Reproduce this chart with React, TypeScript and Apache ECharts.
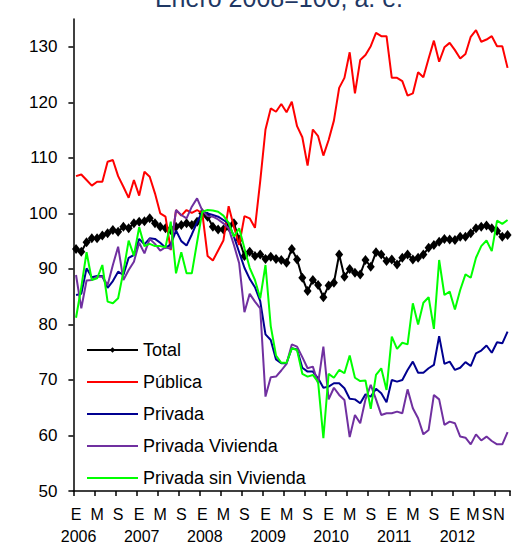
import { useEffect, useRef } from 'react';
import * as echarts from 'echarts';

const years = [2006, 2007, 2008, 2009, 2010, 2011, 2012];
const monthLetters = ['E', 'F', 'M', 'A', 'M', 'J', 'J', 'A', 'S', 'O', 'N', 'D'];
const monthCount = 83; // Enero 2006 .. Noviembre 2012
const categories: string[] = [];
for (let i = 0; i < monthCount; i++) {
  categories.push(`${monthLetters[i % 12]} ${years[Math.floor(i / 12)]}`);
}

const yTicks = [50, 60, 70, 80, 90, 100, 110, 120, 130];

const seriesNames = ['Total', 'Pública', 'Privada', 'Privada Vivienda', 'Privada sin Vivienda'];
const seriesColors = ['#000000', '#FF0000', '#000090', '#7030A0', '#00FF00'];

const total = [
  93.6, 93.1, 94.8, 95.5, 95.5, 96.0, 96.4, 97.0, 96.7, 97.6, 97.3, 98.2,
  98.5, 98.6, 99.1, 98.2, 97.6, 97.3, 97.0, 97.6, 97.9, 98.2, 97.9, 98.5,
  100.0, 99.4, 97.6, 97.1, 97.1, 97.6, 98.2, 95.3, 92.3, 93.1, 92.3, 92.6,
  91.8, 92.2, 91.8, 91.6, 91.1, 93.6, 91.7, 88.4, 86.0, 88.0, 87.1, 84.9,
  87.0, 87.5, 92.6, 88.6, 90.0, 89.3, 89.0, 91.6, 90.4, 93.0, 92.6, 91.4,
  91.7, 90.8, 92.0, 92.6, 91.7, 92.0, 92.6, 93.8, 94.3, 94.9, 95.4, 95.3,
  95.2, 95.8, 95.8, 96.4, 97.3, 97.6, 97.8, 97.3, 96.8, 95.8, 96.1,
];

const publica = [
  106.7, 107.0, 106.0, 105.0, 105.7, 105.7, 109.3, 109.6, 106.7, 104.8, 102.8, 106.0,
  103.2, 107.5, 106.6, 103.6, 100.0, 99.4, 93.4, 100.6, 99.6, 100.6, 100.1, 100.6,
  100.0, 92.3, 91.5, 93.3, 95.1, 101.3, 97.6, 94.3, 99.5, 99.1, 97.4, 105.8,
  115.1, 118.9, 118.3, 119.7, 118.2, 120.1, 115.7, 113.7, 108.6, 115.1, 113.9, 110.4,
  113.2, 116.7, 122.6, 124.4, 129.0, 121.6, 127.6, 128.5, 130.1, 132.5, 131.9, 131.9,
  124.4, 124.4, 123.8, 121.2, 121.6, 125.4, 124.5, 127.9, 131.1, 127.3, 129.9, 130.7,
  129.4, 127.9, 128.7, 131.8, 133.0, 130.9, 131.3, 131.9, 130.1, 130.1, 126.2,
];

const privada = [
  85.3, 85.5, 90.1, 88.5, 88.7, 88.7, 86.6, 87.8, 89.5, 88.9, 92.0, 92.5,
  95.4, 94.4, 95.5, 95.4, 94.7, 93.8, 94.4, 96.9, 95.0, 94.2, 96.2, 98.4,
  100.3, 100.0, 99.7, 99.4, 98.8, 98.2, 95.8, 93.0, 90.2, 88.2, 86.7, 84.2,
  78.2, 77.2, 73.7, 73.0, 73.0, 75.7, 75.5, 72.2, 71.5, 71.5, 70.3, 68.6,
  68.8, 69.4, 69.4, 68.5, 66.6, 66.5, 65.8, 67.4, 67.0, 68.4, 67.6, 66.0,
  70.0, 69.7, 70.0, 71.8, 73.3, 71.3, 71.3, 72.1, 72.7, 77.9, 72.9, 73.3,
  71.8, 72.2, 73.2, 72.5, 74.8, 75.3, 76.2, 74.9, 76.8, 76.6, 78.7,
];

const privadaVivienda = [
  88.9, 82.9, 87.9, 88.0, 88.6, 88.6, 87.1, 90.7, 94.0, 88.0, 89.8, 91.3,
  94.7, 92.8, 95.4, 94.5, 93.3, 93.9, 93.6, 100.6, 99.7, 99.1, 101.2, 102.7,
  100.5, 99.5, 99.4, 98.9, 98.2, 97.3, 94.3, 91.0, 82.2, 85.5, 84.1, 82.9,
  67.0, 70.5, 70.6, 71.7, 72.9, 76.4, 76.0, 74.1, 72.1, 72.4, 69.4, 76.0,
  66.5, 68.6, 67.3, 66.4, 59.7, 63.7, 62.2, 66.5, 69.1, 66.5, 63.7, 64.0,
  64.0, 64.3, 64.0, 68.3, 64.9, 63.1, 60.2, 61.0, 67.3, 66.5, 61.9, 62.5,
  62.2, 59.8, 59.6, 58.4, 60.2, 59.1, 59.8, 59.0, 58.4, 58.4, 60.6,
];

const privadaSinVivienda = [
  81.2, 86.7, 93.0, 88.0, 88.3, 90.7, 84.1, 83.8, 84.7, 89.5, 95.1, 92.4,
  97.5, 94.1, 94.5, 94.1, 94.1, 93.9, 98.5, 89.2, 93.0, 89.2, 89.2, 94.8,
  100.3, 100.6, 100.5, 100.3, 99.6, 98.3, 95.8, 97.3, 93.7, 90.2, 88.0, 84.7,
  90.7, 79.7, 74.4, 73.1, 73.1, 75.7, 75.4, 71.1, 70.6, 70.9, 69.6, 59.5,
  71.1, 70.4, 71.8, 71.2, 74.4, 70.4, 69.8, 69.9, 64.8, 70.9, 72.1, 68.2,
  77.8, 75.6, 76.7, 76.4, 83.8, 80.0, 83.9, 84.9, 79.2, 91.6, 85.3, 85.9,
  82.7, 86.2, 89.0, 88.4, 92.0, 94.1, 95.1, 93.2, 98.7, 98.1, 98.8,
];

const seriesData = [total, publica, privada, privadaVivienda, privadaSinVivienda];

const titleText = 'Enero 2008=100, a. e.';
const FONT = '"Liberation Sans", Arial, sans-serif';

export default function App() {
  const ref = useRef<HTMLDivElement>(null);

  useEffect(() => {
    if (!ref.current) return;
    const chart = echarts.init(ref.current, undefined, { renderer: 'svg' });

    const labelBase = { fontSize: 16, lineHeight: 22, color: '#000', fontFamily: FONT };
    const lastIdx = monthCount - 1;

    // Extra label-only axes sharing the grid (no line, no ticks)
    const labelAxis = (
      show: (i: number) => boolean,
      margin: number,
      formatter: (v: string, i: number) => string,
      rich: any
    ) => ({
      type: 'category',
      data: categories,
      gridIndex: 0,
      position: 'bottom',
      boundaryGap: true,
      axisLine: { show: false, onZero: false },
      axisTick: { show: false },
      splitLine: { show: false },
      axisPointer: { show: false },
      axisLabel: {
        show: true,
        margin,
        showMinLabel: true,
        showMaxLabel: true,
        interval: (i: number) => show(i),
        ...labelBase,
        formatter,
        rich,
      },
    });

    const option: any = {
      animation: false,
      backgroundColor: '#ffffff',
      textStyle: { fontFamily: FONT },
      graphic: [
        {
          type: 'text',
          x: 279,
          y: -2,
          style: {
            text: titleText,
            fontSize: 25,
            fontFamily: FONT,
            fill: '#1F3864',
            align: 'center',
            verticalAlign: 'middle',
            textAlign: 'center',
            textVerticalAlign: 'middle',
          },
        },
      ],
      grid: {
        left: 73.4,
        right: 2.8,
        top: 19,
        bottom: 53,
        containLabel: false,
        outerBoundsMode: 'none',
      },
      legend: {
        orient: 'vertical',
        left: 86,
        top: 341,
        padding: 0,
        itemWidth: 51,
        itemHeight: 7,
        itemGap: 14,
        textStyle: { fontSize: 18, lineHeight: 18, color: '#000', fontFamily: FONT },
        data: seriesNames.map((n, i) =>
          i === 0
            ? { name: n }
            : { name: n, itemStyle: { opacity: 0, color: 'transparent', borderWidth: 0 } }
        ),
      },
      xAxis: [
        {
          type: 'category',
          data: categories,
          gridIndex: 0,
          position: 'bottom',
          boundaryGap: true,
          axisLine: { show: true, onZero: false, lineStyle: { color: '#000', width: 1.5 } },
          axisTick: {
            show: true,
            length: 5,
            alignWithLabel: false,
            interval: (i: number) => i % 4 === 0,
            lineStyle: { color: '#000', width: 1.5 },
          },
          axisLabel: {
            show: true,
            margin: 12,
            showMinLabel: true,
            showMaxLabel: true,
            interval: (i: number) => i % 4 === 0 && i < 80,
            ...labelBase,
            formatter: (value: string, index: number) => {
              const letter = value.split(' ')[0];
              if (index === 76) return `{m76|${letter}}`;
              return `{a|${letter}}`;
            },
            rich: {
              a: { ...labelBase },
              m76: { ...labelBase, padding: [0, 6, 0, 0] },
            },
          },
          splitLine: { show: false },
        },
        labelAxis(
          (i) => i === 80,
          12,
          (v) => `{s|${v.split(' ')[0]}}`,
          { s: { ...labelBase, padding: [0, 20, 0, 0] } }
        ),
        labelAxis(
          (i) => i === lastIdx,
          12,
          (v) => `{n|${v.split(' ')[0]}}`,
          { n: { ...labelBase, padding: [0, 17, 0, 0] } }
        ),
        labelAxis(
          (i) => i % 12 === 0,
          34,
          (v) => `{yr|${v.split(' ')[1]}}`,
          { yr: { ...labelBase, padding: [0, 0, 0, 5] } }
        ),
      ],
      yAxis: {
        type: 'value',
        min: 50,
        max: 135,
        interval: 10,
        axisLine: { show: true, lineStyle: { color: '#000', width: 1.5 } },
        axisTick: {
          show: true,
          length: 5,
          customValues: yTicks,
          lineStyle: { color: '#000', width: 1.5 },
        },
        axisLabel: {
          show: true,
          customValues: yTicks,
          margin: 16,
          fontSize: 17,
          color: '#000',
          fontFamily: FONT,
        },
        splitLine: { show: false },
      },
      series: seriesNames.map((name, i) => ({
        name,
        type: 'line',
        xAxisIndex: 0,
        yAxisIndex: 0,
        data: seriesData[i],
        symbol: i === 0 ? 'diamond' : 'none',
        symbolSize: i === 0 ? [8, 10] : 0,
        showSymbol: i === 0,
        showAllSymbol: true,
        smooth: false,
        color: seriesColors[i],
        itemStyle: { color: seriesColors[i] },
        lineStyle: { color: seriesColors[i], width: 2 },
        emphasis: { disabled: true },
        z: 2 + i,
      })),
    };

    chart.setOption(option);
    return () => {
      chart.dispose();
    };
  }, []);

  return (
    <div
      ref={ref}
      style={{ position: 'absolute', left: 0, top: 0, width: 513, height: 544 }}
    />
  );
}
